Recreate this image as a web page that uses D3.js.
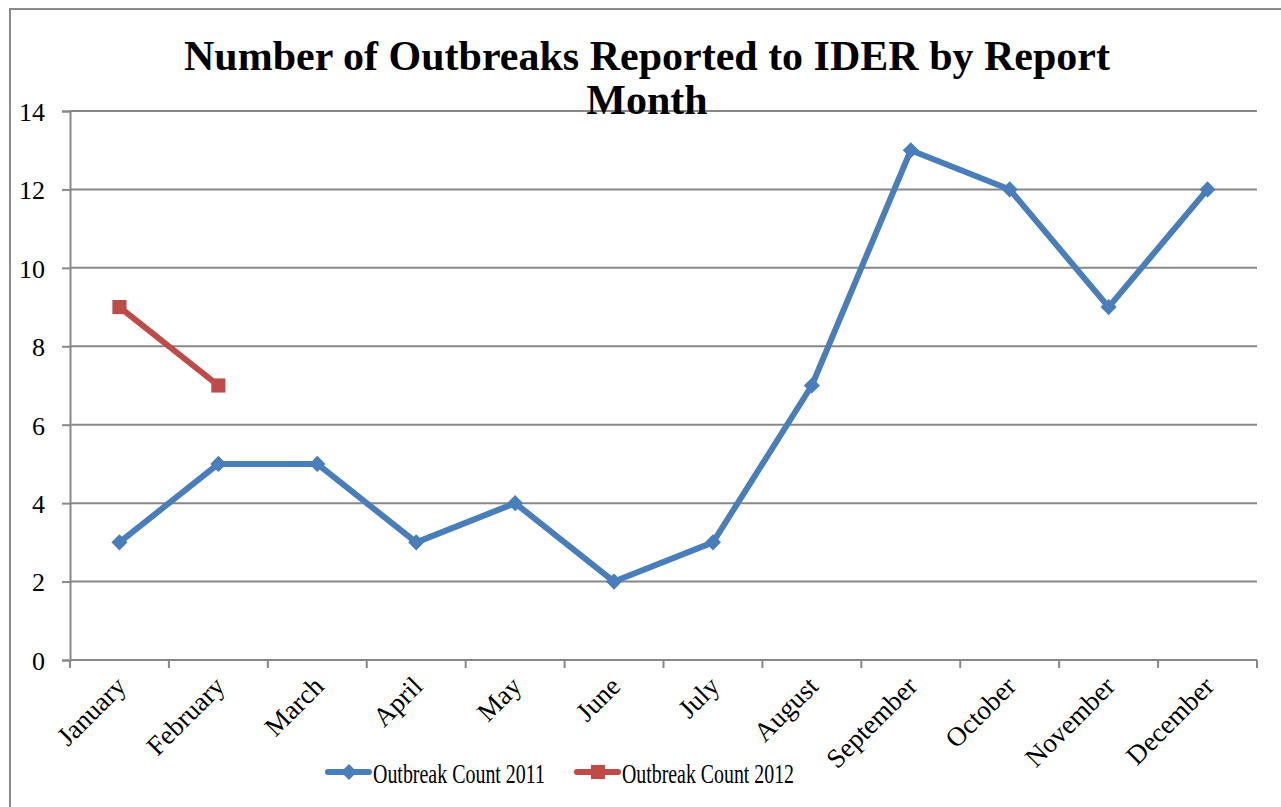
<!DOCTYPE html>
<html>
<head>
<meta charset="utf-8">
<script src="https://cdn.jsdelivr.net/npm/d3@7"></script>
<style>
  body { margin: 0; background: #fff; }
  svg { display: block; font-family: "Liberation Serif", "Times New Roman", serif; }
</style>
</head>
<body>
<svg width="1281" height="807"></svg>
<script>
const months = ["January", "February", "March", "April", "May", "June",
  "July", "August", "September", "October", "November", "December"];
const count2011 = [3, 5, 5, 3, 4, 2, 3, 7, 13, 12, 9, 12];
const count2012 = [9, 7];
const yTicks = [0, 2, 4, 6, 8, 10, 12, 14];

const series = [
  { name: "Outbreak Count 2011", values: count2011, color: "#4A7EBB", shape: "diamond" },
  { name: "Outbreak Count 2012", values: count2012, color: "#BE4B48", shape: "square" },
];

const svg = d3.select("svg");
const margin = { left: 70, right: 1257, top: 111, bottom: 660 };

// outer chart border
svg.append("rect")
  .attr("x", 10).attr("y", 9)
  .attr("width", 1290).attr("height", 820)
  .attr("fill", "none").attr("stroke", "#8c8c8c").attr("stroke-width", 2);

const x = d3.scaleBand().domain(months).range([margin.left, margin.right]);
const y = d3.scaleLinear().domain([0, 14]).range([margin.bottom, margin.top]);

// gridlines
svg.append("g")
  .selectAll("line")
  .data(yTicks.filter((d) => d > 0))
  .enter()
  .append("line")
  .attr("x1", margin.left).attr("x2", margin.right)
  .attr("y1", (d) => y(d)).attr("y2", (d) => y(d))
  .attr("stroke", "#888").attr("stroke-width", 2);

// y axis
const yAxis = svg.append("g")
  .attr("transform", `translate(${margin.left},0)`)
  .call(d3.axisLeft(y).tickValues(yTicks).tickSize(8).tickPadding(17));
yAxis.select(".domain").attr("stroke", "#888").attr("stroke-width", 2);
yAxis.selectAll(".tick line").attr("stroke", "#888").attr("stroke-width", 2);
yAxis.selectAll("text")
  .attr("font-family", "Liberation Serif")
  .attr("font-size", 26).attr("fill", "#000")
  .attr("dy", "0.36em");

// x axis with ticks at band boundaries
const xAxis = svg.append("g")
  .attr("transform", `translate(0,${margin.bottom})`);
xAxis.append("line")
  .attr("x1", margin.left).attr("x2", margin.right)
  .attr("stroke", "#888").attr("stroke-width", 2);
const bounds = months.map((m) => x(m)).concat([margin.right]);
xAxis.selectAll(".tk")
  .data(bounds)
  .enter()
  .append("line")
  .attr("class", "tk")
  .attr("x1", (d) => d).attr("x2", (d) => d)
  .attr("y1", 0).attr("y2", 8)
  .attr("stroke", "#888").attr("stroke-width", 2);
xAxis.selectAll(".lbl")
  .data(months)
  .enter()
  .append("text")
  .attr("class", "lbl")
  .attr("text-anchor", "end")
  .attr("font-size", 27)
  .attr("transform", (d) => `translate(${x(d) + x.bandwidth() / 2 + 8},${28}) rotate(-45)`)
  .text((d) => d);

// lines + markers
const line = d3.line()
  .x((d, i) => x(months[i]) + x.bandwidth() / 2)
  .y((d) => y(d));

const symbolFor = (shape) =>
  shape === "diamond"
    ? d3.symbol().type(d3.symbolSquare).size(130)
    : d3.symbol().type(d3.symbolSquare).size(200);

series.forEach((s) => {
  svg.append("path")
    .datum(s.values)
    .attr("fill", "none")
    .attr("stroke", s.color)
    .attr("stroke-width", 6)
    .attr("stroke-linejoin", "round")
    .attr("d", line);

  svg.append("g")
    .selectAll("path")
    .data(s.values)
    .enter()
    .append("path")
    .attr("d", symbolFor(s.shape))
    .attr("fill", s.color)
    .attr("transform", (d, i) =>
      `translate(${x(months[i]) + x.bandwidth() / 2},${y(d)})` +
      (s.shape === "diamond" ? " rotate(45)" : ""));
});

// title
const title = svg.append("text")
  .attr("text-anchor", "middle")
  .attr("font-weight", "bold")
  .attr("font-size", 42);
title.append("tspan").attr("x", 647).attr("y", 70)
  .text("Number of Outbreaks Reported to IDER by Report");
title.append("tspan").attr("x", 647).attr("y", 114).text("Month");

// legend
const legendItems = [
  { s: series[0], x: 328 },
  { s: series[1], x: 577 },
];
const legendY = 772;
legendItems.forEach(({ s, x: lx }) => {
  const g = svg.append("g");
  g.append("line")
    .attr("x1", lx).attr("x2", lx + 41)
    .attr("y1", legendY).attr("y2", legendY)
    .attr("stroke", s.color).attr("stroke-width", 6)
    .attr("stroke-linecap", "round");
  g.append("path")
    .attr("d", symbolFor(s.shape))
    .attr("fill", s.color)
    .attr("transform", `translate(${lx + 21},${legendY})` +
      (s.shape === "diamond" ? " rotate(45)" : ""));
  g.append("text")
    .attr("x", lx + 45).attr("y", legendY + 11)
    .attr("font-size", 27)
    .attr("textLength", 172)
    .attr("lengthAdjust", "spacingAndGlyphs")
    .text(s.name);
});
</script>
</body>
</html>
